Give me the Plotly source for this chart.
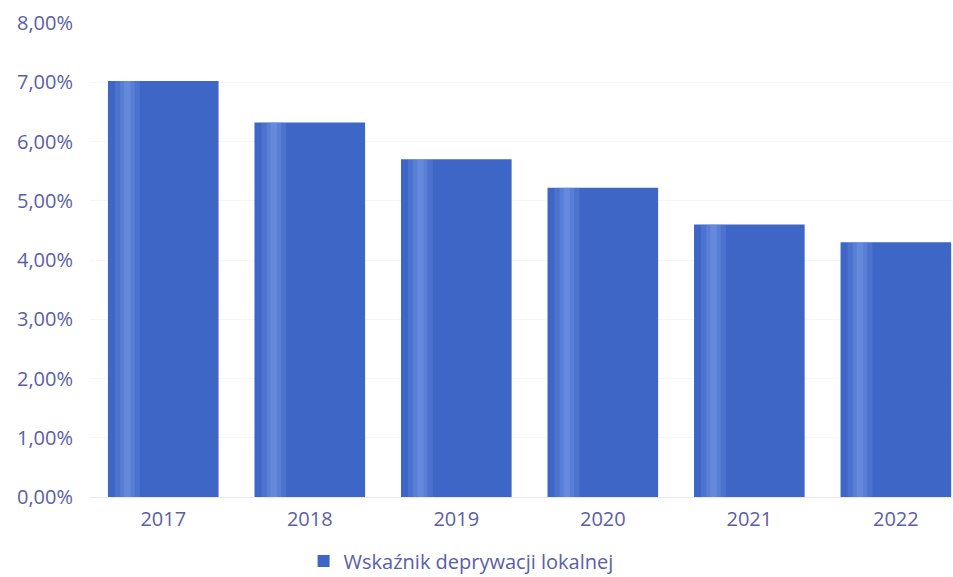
import plotly.graph_objects as go

years = ["2017", "2018", "2019", "2020", "2021", "2022"]
values = [7.02, 6.32, 5.70, 5.22, 4.60, 4.30]
series_name = "Wskaźnik deprywacji lokalnej"
y_ticks = [0, 1, 2, 3, 4, 5, 6, 7, 8]
y_tick_labels = ["0,00%", "1,00%", "2,00%", "3,00%", "4,00%", "5,00%", "6,00%", "7,00%", "8,00%"]

text_color = "#5a60a6"
bar_color = "#3e66c6"
highlight_color = "#8aaaf0"

fig = go.Figure()
fig.add_trace(go.Bar(
    x=years, y=values, name=series_name,
    marker=dict(color=bar_color, line=dict(width=0)),
    width=0.755,
))
# soft cylindrical highlight on each bar (layered translucent strips)
for w, op in [(0.17, 0.18), (0.10, 0.22), (0.045, 0.25)]:
    fig.add_trace(go.Bar(
        x=years, y=values, showlegend=False, hoverinfo="skip",
        marker=dict(color=highlight_color, opacity=op, line=dict(width=0)),
        width=w, offset=-0.245 - w / 2,
    ))
fig.update_layout(
    width=953, height=577,
    barmode="overlay",
    paper_bgcolor="white", plot_bgcolor="white",
    margin=dict(l=90, r=0, t=23, b=80, autoexpand=False),
    font=dict(family="Open Sans", color=text_color, size=20),
    xaxis=dict(range=[-0.5, 5.39], showgrid=False, showline=True,
               linecolor="#e8e8ee", linewidth=1, ticks="",
               ticklabelstandoff=4,
               tickfont=dict(size=20, color=text_color)),
    yaxis=dict(range=[0, 8], tickvals=y_ticks, ticktext=y_tick_labels,
               showgrid=True, gridcolor="#f6f6f8", zeroline=False,
               ticklabelstandoff=16,
               tickfont=dict(size=20, color=text_color)),
    legend=dict(orientation="h", x=0.43, xanchor="center", y=-0.094, yref="paper",
                yanchor="top", font=dict(size=20, color=text_color),
                itemwidth=30),
    showlegend=True,
)
fig.write_html("out.html", config={"displayModeBar": False},
               post_script="document.body.style.margin='0px';document.body.style.overflow='hidden';")
